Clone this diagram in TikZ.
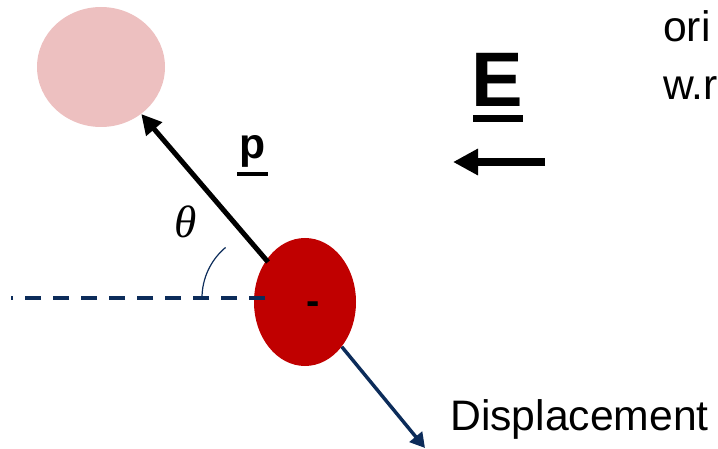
\documentclass[tikz,border=0pt]{standalone}
\usepackage{fontspec}
\setmainfont{Liberation Sans}
\newfontfamily\greekserif{Liberation Serif}
\usetikzlibrary{arrows.meta,shapes.geometric,calc}
\definecolor{pinkball}{RGB}{237,192,192}
\definecolor{redball}{RGB}{192,0,0}
\definecolor{navy}{RGB}{12,44,90}
\begin{document}
\begin{tikzpicture}[x=0.75pt,y=-0.75pt,
  ball/.style={ellipse,draw=none,inner sep=0pt},
  lbl/.style={inner sep=0pt,font=\fontsize{32}{38}\selectfont},
  parrow/.style={line width=3.75pt,-{Triangle[length=15pt,width=15pt]}},
  earrow/.style={line width=6pt,-{Triangle[length=18.75pt,width=18.75pt]}},
  darrow/.style={navy,line width=2.6pt,-{Triangle[length=11pt,width=12pt]}},
  refline/.style={navy,line width=3pt,dash pattern=on 12pt off 9pt},
  anglearc/.style={navy,line width=0.9pt}]
\useasboundingbox (0,0) rectangle (718,449);
\clip (0,0) rectangle (718,449);
% balls
\node[ball,fill=pinkball,minimum width=96pt,minimum height=90pt] (pink) at (101,67) {};
\node[ball,fill=redball,minimum width=76.5pt,minimum height=96pt] (red) at (305,302) {};
% coordinates
\coordinate (pstart) at (268,262);
\coordinate (dtip) at (425,448);
\coordinate (estart) at (545,162);
\coordinate (etip) at (453,162);
\coordinate (dashend) at (265,298);
\coordinate (dashstart) at (11,298);
\coordinate (arcstart) at (202,298);
% dashed reference line and angle arc
\draw[refline] (dashend) -- (dashstart);
\draw[anglearc] (arcstart) arc[start angle=180,end angle=130,radius=49.5pt];
% arrows
\draw[parrow] (pstart) -- (pink);
\draw[darrow] (red) -- (dtip);
\draw[earrow] (estart) -- (etip);
% labels
\node[lbl,font=\bfseries\fontsize{30}{36}\selectfont,anchor=base] (minus) at (313,314) {-};
\node[lbl,font=\bfseries\fontsize{32}{38}\selectfont,anchor=base west] (pl) at (239,159) {p};
\draw[line width=2.4pt] ($(pl.base west)+(-2,15)$) -- ($(pl.base east)+(2,15)$);
\node[lbl,font=\bfseries\fontsize{58}{64}\selectfont,anchor=base west] (el) at (471,107) {E};
\draw[line width=5.2pt] ($(el.base west)+(2,11.5)$) -- ($(el.base east)+(0,11.5)$);
\node[lbl,font=\greekserif\itshape\fontsize{34}{40}\selectfont] (th) at (186,222) {θ};
\node[lbl,anchor=base west] (disp) at (450,430) {Displacement};
\node[lbl,anchor=base west] (ori) at (663,42) {ori};
\node[lbl,anchor=base west] (wr) at (663,100) {w.r};
\end{tikzpicture}
\end{document}
